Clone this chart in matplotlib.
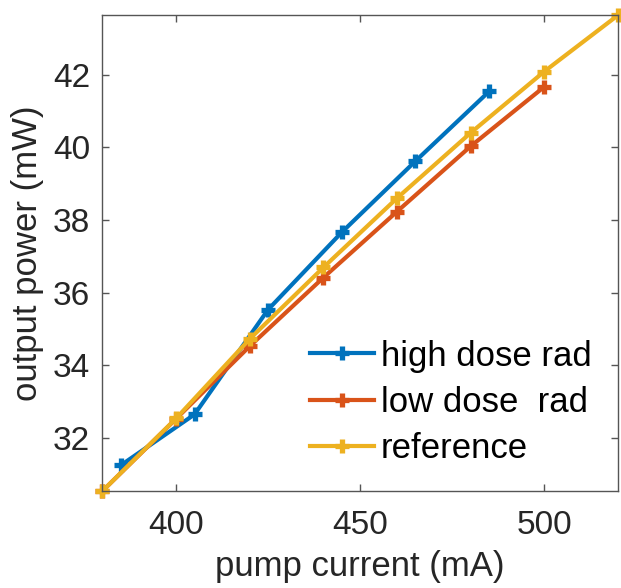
import numpy as np
import matplotlib.pyplot as plt

# values
high_x = [385, 405, 425, 445, 465, 485]
high_y = [31.24, 32.64, 35.53, 37.66, 39.62, 41.54]

low_x = [380, 400, 420, 440, 460, 480, 500]
low_y = [30.53, 32.52, 34.52, 36.41, 38.23, 40.03, 41.67]

ref_x = [380, 400, 420, 440, 460, 480, 500, 520]
ref_y = [30.53, 32.53, 34.72, 36.69, 38.60, 40.40, 42.09, 43.64]

labels = ['high dose rad', 'low dose  rad', 'reference']
colors = ['#0072BD', '#D95319', '#EDB120']

plt.rcParams['font.family'] = ['Liberation Sans', 'DejaVu Sans']

fig = plt.figure(figsize=(6.21, 5.88), dpi=100)
ax = fig.add_axes([0.165, 0.165, 0.83, 0.809])

for xs, ys, lab, c in zip([high_x, low_x, ref_x], [high_y, low_y, ref_y], labels, colors):
    ax.plot(xs, ys, '-', color=c, lw=3.0, marker='+', ms=9.5, mew=3.8,
            label=lab, clip_on=False)

ax.set_xlim(380, 520)
ax.set_ylim(30.53, 43.64)
ax.set_xticks([400, 450, 500])
ax.set_yticks([32, 34, 36, 38, 40, 42])

txt = '#262626'
ax.tick_params(direction='in', length=5, width=1, colors='#555555',
               labelcolor=txt, labelsize=24, top=True, right=True)
ax.tick_params(axis='x', pad=14)
ax.tick_params(axis='y', pad=9)
for s in ax.spines.values():
    s.set_color('#555555')
    s.set_linewidth(1)

ax.set_xlabel('pump current (mA)', fontsize=25, color=txt, labelpad=6)
ax.set_ylabel('output power (mW)', fontsize=25, color=txt, labelpad=6)

leg = ax.legend(loc='lower right', frameon=False, fontsize=25,
                handlelength=1.85, handletextpad=0.2, labelspacing=0.38,
                borderaxespad=0.35)

fig.savefig('out.png', dpi=100)
